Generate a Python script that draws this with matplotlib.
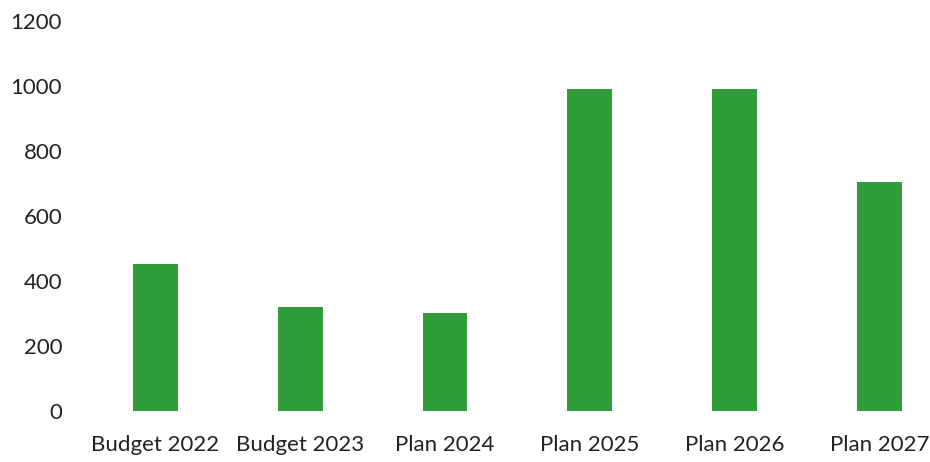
import matplotlib.pyplot as plt

# Chart data
categories = ["Budget 2022", "Budget 2023", "Plan 2024", "Plan 2025", "Plan 2026", "Plan 2027"]
values = [452, 320, 302, 990, 990, 705]
y_ticks = [0, 200, 400, 600, 800, 1000, 1200]

plt.rcParams['font.family'] = ['Lato', 'DejaVu Sans']

fig = plt.figure(figsize=(9.3, 4.62), dpi=100)
ax = fig.add_axes([83 / 930, 51 / 462, (930 - 83) / 930, 390 / 462])

x = range(len(categories))
ax.bar(x, values, width=0.31, color='#2f9e3a')

ax.set_xlim(-0.5, 5.35)
ax.set_ylim(0, 1200)
ax.set_xticks(list(x))
ax.set_xticklabels(categories)
ax.set_yticks(y_ticks)

for side in ['top', 'right', 'bottom', 'left']:
    ax.spines[side].set_visible(False)
ax.tick_params(axis='both', length=0, labelsize=16, colors='#222222')
ax.tick_params(axis='y', pad=15)
ax.tick_params(axis='x', pad=17)

fig.savefig('out.png', dpi=100, facecolor='white')
